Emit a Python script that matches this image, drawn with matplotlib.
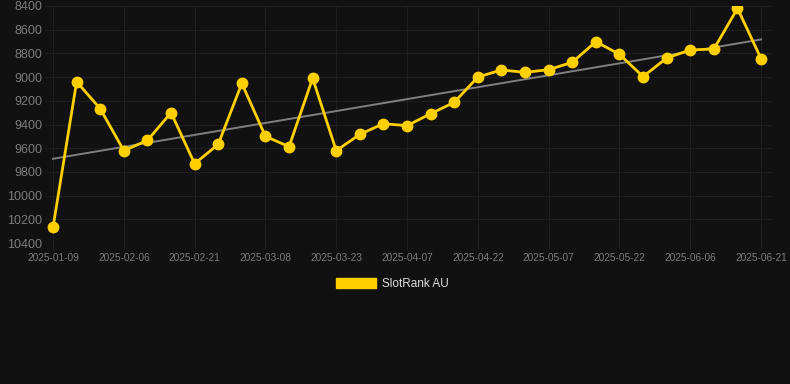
import numpy as np
from matplotlib import pyplot as plt
from matplotlib.patches import Patch

dates = ['2025-01-09', '2025-01-19', '2025-01-29', '2025-02-06', '2025-02-11', '2025-02-16',
         '2025-02-21', '2025-02-26', '2025-03-03', '2025-03-08', '2025-03-13', '2025-03-18',
         '2025-03-23', '2025-03-28', '2025-04-02', '2025-04-07', '2025-04-12', '2025-04-17',
         '2025-04-22', '2025-04-27', '2025-05-02', '2025-05-07', '2025-05-12', '2025-05-17',
         '2025-05-22', '2025-05-27', '2025-06-01', '2025-06-06', '2025-06-11', '2025-06-16',
         '2025-06-21']
rank = [10268, 9039, 9267, 9621, 9534, 9300, 9731, 9567, 9053, 9500, 9587, 9010,
        9621, 9483, 9393, 9410, 9309, 9213, 8999, 8940, 8960, 8937, 8875, 8701,
        8808, 8996, 8839, 8771, 8763, 8420, 8845]
y_ticks = [8400, 8600, 8800, 9000, 9200, 9400, 9600, 9800, 10000, 10200, 10400]

bg = '#111111'
gold = '#FFD000'
fnt = 'Liberation Sans'

fig = plt.figure(figsize=(7.9, 3.84), dpi=100, facecolor=bg)
ax = fig.add_axes([45 / 790, 1 - 243 / 384, (771 - 45) / 790, (243 - 6) / 384], facecolor=bg)

x = np.arange(len(rank))
# linear trend over the category index
k, b = np.polyfit(x, rank, 1)
ax.plot(x, k * x + b, color='#808080', linewidth=1.4, zorder=2)
ax.plot(x, rank, color=gold, linewidth=2.0, marker='o', markersize=7.5, zorder=3)

ax.set_ylim(10400, 8400)
ax.set_xlim(-0.34, len(rank) - 1 + 0.42)
ax.set_yticks(y_ticks)
ax.set_yticklabels([str(v) for v in y_ticks], fontsize=9, color='#7c7c7c', fontfamily=fnt)
ax.set_xticks(x[::3])
ax.set_xticklabels(dates[::3], fontsize=7.3, color='#7c7c7c', fontfamily=fnt)
ax.tick_params(axis='y', length=0, pad=2)
ax.tick_params(axis='x', length=4, color='#222222', pad=3)
ax.grid(True, color='#1f1f1f', linewidth=0.8)
ax.set_axisbelow(True)
for s in ax.spines.values():
    s.set_visible(False)

handle = Patch(facecolor=gold, edgecolor=gold)
fig.legend([handle], ['SlotRank AU'], loc='center', bbox_to_anchor=(392 / 790, 1 - 284 / 384),
           frameon=False, handlelength=3.4, handleheight=1.0, handletextpad=0.5,
           prop={'family': fnt, 'size': 8.5}, labelcolor='#dddddd')

fig.savefig('out.png', dpi=100, facecolor=bg)
